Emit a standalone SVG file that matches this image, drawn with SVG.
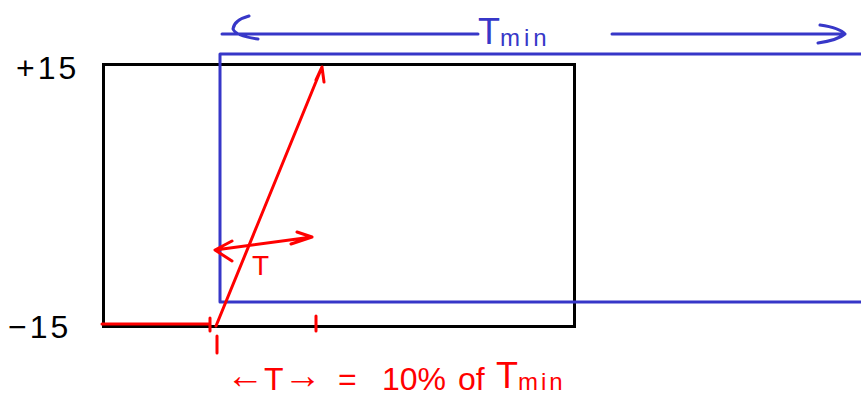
<svg xmlns="http://www.w3.org/2000/svg" width="861" height="402" viewBox="0 0 861 402">
<style>
.blk{fill:none;stroke:#000;stroke-width:3}
.blu{fill:none;stroke:#3737c8;stroke-width:3;stroke-linecap:round;stroke-linejoin:round}
.red{fill:none;stroke:#ff0000;stroke-width:3;stroke-linecap:round;stroke-linejoin:round}
.tk{font-family:"Liberation Sans",sans-serif;fill:#000}
.tb{font-family:"Liberation Sans",sans-serif;fill:#3737c8}
.tr{font-family:"Liberation Sans",sans-serif;fill:#ff0000}
</style>
<rect width="861" height="402" fill="#fff"/>
<g id="black-box"><rect class="blk" x="103.5" y="64.5" width="471" height="262"/></g>
<g id="blue-box"><path class="blu" d="M861 54 H220 V302 H861" stroke-linecap="butt"/></g>
<g id="labels">
<text class="tk" x="16" y="79" font-size="32" letter-spacing="3">+15</text>
<text class="tk" x="8" y="338" font-size="32" letter-spacing="3">−15</text>
</g>
<g id="connectors">
<path class="blu" d="M222 34 H478 M612 34 H845 M249 16 Q234 20 233 29 Q236 36 258 39 M820 25 Q840 28 845 34 Q838 40 818 43"/>
<path class="red" d="M102 324 H210 M210 318 V331 M216 326 L322 67 M316 80 L322 67 L324 82 M316 316 V331 M217 336 V353"/>
<path class="red" d="M215 250 L312 237 M232 241 L215 250 L232 261 M297 232 L312 237 L291 244"/>
</g>
<g id="texts">
<text class="tb" x="478" y="44" font-size="36">T<tspan font-size="24" dy="2" letter-spacing="4">min</tspan></text>
<text class="tr" x="252" y="275" font-size="28">T</text>
<text class="tr" x="226" y="390" font-size="32"><tspan font-size="38" dy="-2">←</tspan><tspan dy="2">T</tspan><tspan font-size="38" dy="-2">→</tspan></text>
<text class="tr" x="338" y="390" font-size="32">=</text>
<text class="tr" x="382" y="390" font-size="32">10%</text>
<text class="tr" x="458" y="390" font-size="32">of</text>
<text class="tr" x="496" y="388" font-size="36">T<tspan font-size="24" dy="2" letter-spacing="3">min</tspan></text>
</g>
</svg>
